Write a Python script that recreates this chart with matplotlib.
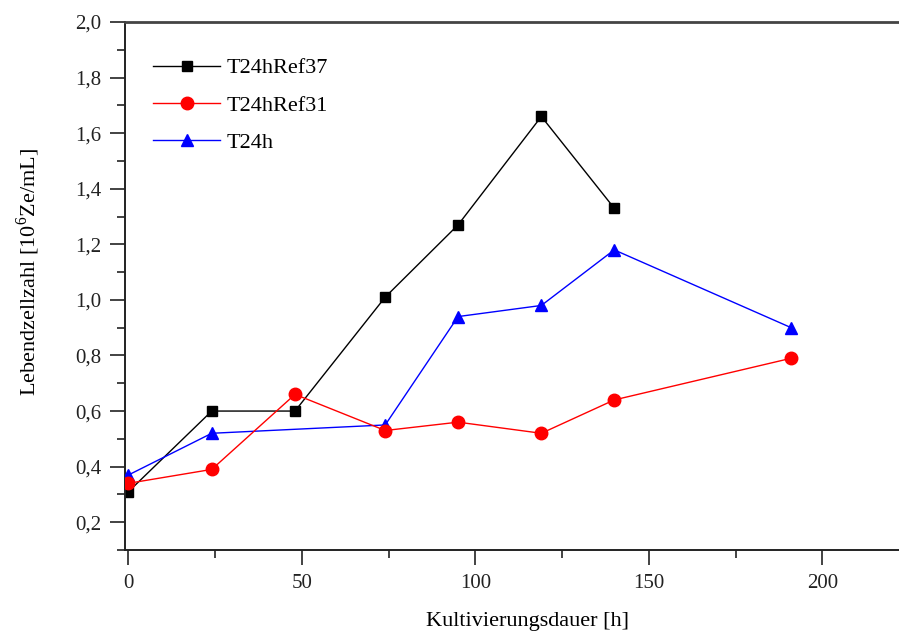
import matplotlib
matplotlib.use("Agg")
import matplotlib.pyplot as plt
from matplotlib.ticker import MultipleLocator, FixedLocator

plt.rcParams['font.family'] = ['Liberation Serif', 'DejaVu Serif']
plt.rcParams['mathtext.fontset'] = 'custom'
plt.rcParams['mathtext.rm'] = 'Liberation Serif'

# Data
time_ref37 = [0, 24, 48, 74, 95, 119, 140]
cells_ref37 = [0.31, 0.60, 0.60, 1.01, 1.27, 1.66, 1.33]

time_ref31 = [0, 24, 48, 74, 95, 119, 140, 191]
cells_ref31 = [0.34, 0.39, 0.66, 0.53, 0.56, 0.52, 0.64, 0.79]

time_t24h = [0, 24, 74, 95, 119, 140, 191]
cells_t24h = [0.37, 0.52, 0.55, 0.94, 0.98, 1.18, 0.90]

x_ticks = [0, 50, 100, 150, 200]
y_ticks = [0.2, 0.4, 0.6, 0.8, 1.0, 1.2, 1.4, 1.6, 1.8, 2.0]
y_ticklabels = ['0,2', '0,4', '0,6', '0,8', '1,0', '1,2', '1,4', '1,6', '1,8', '2,0']

fig = plt.figure(figsize=(8.99, 6.39), dpi=100)
# the original plot area runs past the right edge of the image
ax = fig.add_axes([125/899, 89/639, 806/899, 528/639])

# red on top, then blue, black lowest
ax.plot(time_ref37, cells_ref37, color='black', lw=1.0, marker='s', ms=7,
        label='T24hRef37', zorder=2)
ax.plot(time_ref31, cells_ref31, color='#ff0000', lw=1.0, marker='o', ms=9,
        label='T24hRef31', zorder=4)
ax.plot(time_t24h, cells_t24h, color='#0000ff', lw=1.0, marker='^', ms=9,
        label='T24h', zorder=3)

ax.set_xlim(-1, 231.3)
ax.set_ylim(0.1, 2.0)

ax.xaxis.set_major_locator(FixedLocator(x_ticks))
ax.xaxis.set_minor_locator(MultipleLocator(25))
ax.set_yticks(y_ticks)
ax.set_yticklabels(y_ticklabels)
ax.yaxis.set_minor_locator(MultipleLocator(0.1))

ax.tick_params(which='major', direction='out', length=11, width=1.2,
               labelsize=15, pad=6, colors='#222222')
ax.tick_params(which='minor', direction='out', length=6, width=1.2, colors='#222222')
ax.tick_params(top=False, right=False)

ax.spines['right'].set_visible(False)
for s in ['left', 'bottom']:
    ax.spines[s].set_linewidth(1.4)
    ax.spines[s].set_color('#222222')
ax.spines['top'].set_linewidth(2.0)
ax.spines['top'].set_color('#444444')

ax.set_xlabel('Kultivierungsdauer [h]', fontsize=16, labelpad=14)
ax.set_ylabel('Lebendzellzahl [10$^6$Ze/mL]', fontsize=16)
ax.yaxis.set_label_coords(-83/806, 0.526)

ax.legend(loc='upper left', frameon=False, fontsize=16, handlelength=3.0,
          handletextpad=0.3, labelspacing=0.75, borderaxespad=0.0,
          bbox_to_anchor=(0.024, 0.949))

fig.savefig('out.png', dpi=100)
